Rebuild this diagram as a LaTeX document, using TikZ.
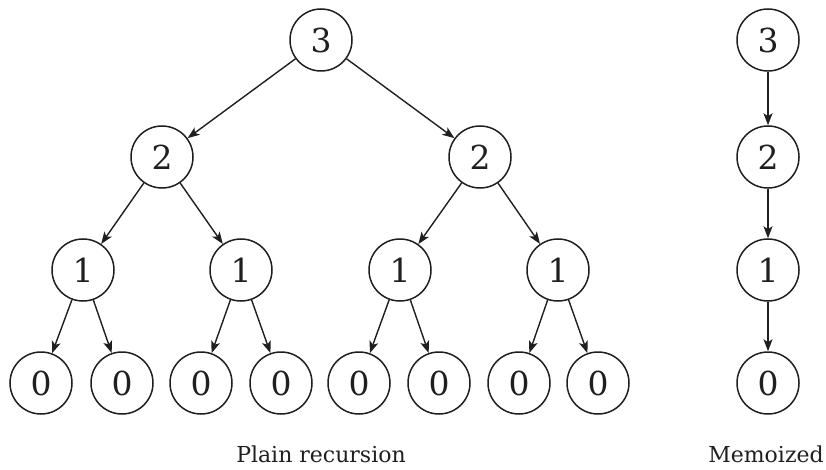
\documentclass[tikz,border=0pt]{standalone}
\usepackage{fontspec}
\setmainfont{DejaVu Serif}
\usetikzlibrary{arrows.meta}
\begin{document}
\begin{tikzpicture}[x=1pt,y=-1pt,
  nd/.style={circle,draw=black!88,line width=1.5pt,minimum size=62pt,inner sep=0pt,text=black!88,font=\fontsize{33}{34}\selectfont},
  ed/.style={-{Stealth[length=12pt,width=9pt,inset=3pt]},line width=1.4pt,draw=black!88},
  captext/.style={font=\fontsize{22}{24}\selectfont,text=black!88}]
\useasboundingbox (0,0) rectangle (826,470);
\node[nd] (r) at (321,40) {3};
\node[nd] (a) at (162,157) {2};
\node[nd] (b) at (480,157) {2};
\node[nd] (a1) at (83,270) {1};
\node[nd] (a2) at (241,270) {1};
\node[nd] (b1) at (400,270) {1};
\node[nd] (b2) at (558,270) {1};
\node[nd] (l1) at (41,383) {0};
\node[nd] (l2) at (122,383) {0};
\node[nd] (l3) at (201,383) {0};
\node[nd] (l4) at (281,383) {0};
\node[nd] (l5) at (359,383) {0};
\node[nd] (l6) at (439,383) {0};
\node[nd] (l7) at (519,383) {0};
\node[nd] (l8) at (598,383) {0};
\node[nd] (m3) at (768,40) {3};
\node[nd] (m2) at (768,157) {2};
\node[nd] (m1) at (768,270) {1};
\node[nd] (m0) at (768,383) {0};
\draw[ed] (r) -- (a);
\draw[ed] (r) -- (b);
\draw[ed] (a) -- (a1);
\draw[ed] (a) -- (a2);
\draw[ed] (b) -- (b1);
\draw[ed] (b) -- (b2);
\draw[ed] (a1) -- (l1);
\draw[ed] (a1) -- (l2);
\draw[ed] (a2) -- (l3);
\draw[ed] (a2) -- (l4);
\draw[ed] (b1) -- (l5);
\draw[ed] (b1) -- (l6);
\draw[ed] (b2) -- (l7);
\draw[ed] (b2) -- (l8);
\draw[ed] (m3) -- (m2);
\draw[ed] (m2) -- (m1);
\draw[ed] (m1) -- (m0);
\node[captext] (c1) at (321,454) {Plain recursion};
\node[captext] (c2) at (766,454) {Memoized};
\end{tikzpicture}
\end{document}
